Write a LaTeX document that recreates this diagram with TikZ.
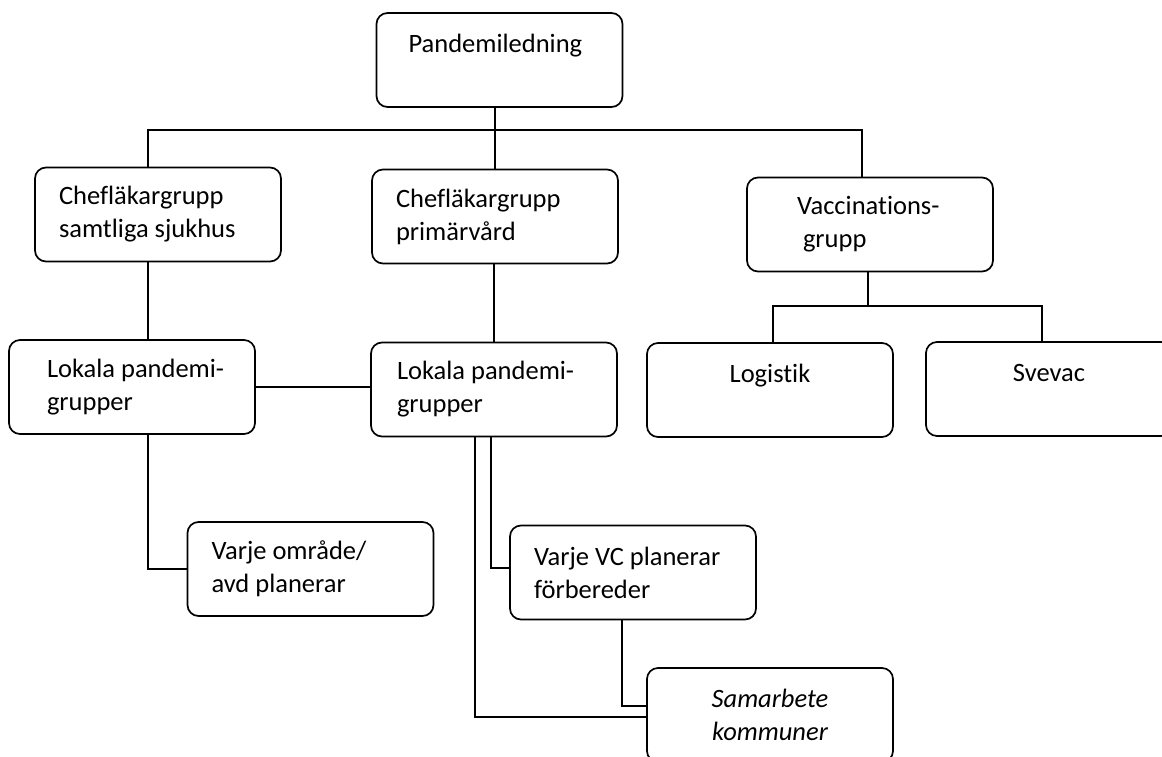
\documentclass[tikz,border=0pt]{standalone}
\usepackage{fontspec}
\setmainfont{Carlito}[Ligatures=NoCommon]
\begin{document}
\begin{tikzpicture}[x=1pt,y=-1pt,line width=1.7pt,
  orgbox/.style={draw,rounded corners=11pt,minimum width=246pt,minimum height=94pt,
    inner xsep=0pt,inner ysep=4pt,align=flush left,font=\fontsize{26.5}{33}\selectfont}]
\useasboundingbox (0,0) rectangle (1162,756);
\clip (0,0) rectangle (1162,756);
% top level
\node[orgbox,text width=182pt] (lead) at (499.5,60) {Pandemiledning\\\mbox{}};
% chief physician groups
\node[orgbox,text width=198pt] (chefsj) at (158,214.5) {Chefläkargrupp\\samtliga sjukhus};
\node[orgbox,text width=198pt] (chefpv) at (495,216.5) {Chefläkargrupp\\primärvård};
\node[orgbox,text width=146pt] (vacc) at (870,224.5) {\mbox{Vaccinations-}\\\hspace*{6pt}grupp};
% local groups
\node[orgbox,text width=170pt] (loksj) at (132,387) {\mbox{Lokala pandemi-}\\grupper};
\node[orgbox,text width=194pt] (lokpv) at (494,389.5) {\mbox{Lokala pandemi-}\\grupper};
\node[orgbox,text width=230pt,align=flush center] (logistik) at (770,390) {Logistik\\\mbox{}};
\node[orgbox,text width=230pt,align=flush center] (svevac) at (1049,389) {Svevac\\\mbox{}};
% planning units
\node[orgbox,text width=198pt] (omrade) at (310.5,569) {Varje område/\\avd planerar};
\node[orgbox,text width=198pt] (vc) at (633,572.5) {Varje VC planerar\\förbereder};
\node[orgbox,text width=230pt,align=flush center,font=\fontsize{26.5}{33}\selectfont\itshape] (kommun) at (770,715) {Samarbete\\kommuner};
% bus under the top box
\coordinate (busL) at (148,130);
\coordinate (busR) at (862,130);
\draw (lead.south -| chefpv.north) -- (chefpv.north);
\draw (busL |- chefsj.north) -- (busL) -- (busR) -- (busR |- vacc.north);
\draw (busL |- chefsj.south) -- (busL |- loksj.north);
\draw (chefpv.south -| lokpv.north) -- (lokpv.north);
\draw (loksj.east) -- (loksj.east -| lokpv.west);
% vaccination branch
\coordinate (vbus) at (868,306);
\coordinate (vbusL) at (773,306);
\coordinate (vbusR) at (1042,306);
\draw (vacc.south -| vbus) -- (vbus);
\draw (vbusL |- logistik.north) -- (vbusL) -- (vbusR) -- (vbusR |- svevac.north);
% lower levels
\coordinate (colB) at (491,568);
\coordinate (colC) at (475,717);
\coordinate (colD) at (622,706);
\draw (busL |- loksj.south) |- (omrade.west);
\draw (colB |- lokpv.south) -- (colB) -- (colB -| vc.west);
\draw (colC |- lokpv.south) -- (colC) -- (colC -| kommun.west);
\draw (colD |- vc.south) -- (colD) -- (colD -| kommun.west);
\end{tikzpicture}
\end{document}
